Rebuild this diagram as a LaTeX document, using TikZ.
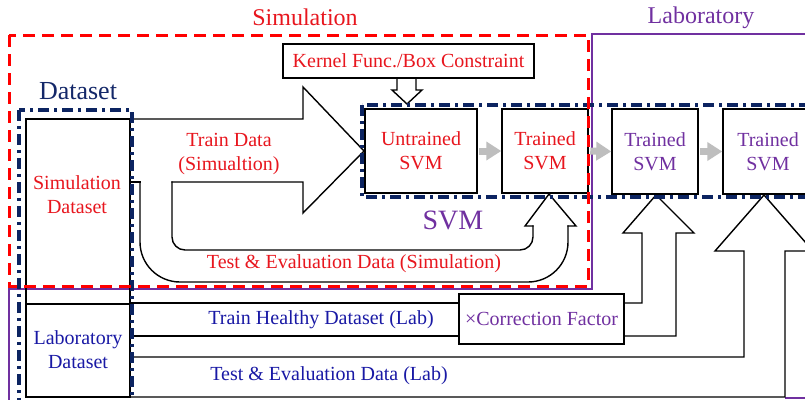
\documentclass[tikz,border=0pt]{standalone}
\usepackage{fontspec}
\setmainfont{Liberation Serif}
\usetikzlibrary{arrows.meta}
\definecolor{simred}{RGB}{232,22,30}
\definecolor{dashred}{RGB}{255,0,0}
\definecolor{labpurple}{RGB}{112,48,160}
\definecolor{navyline}{RGB}{12,36,97}
\definecolor{navytext}{RGB}{20,40,105}
\definecolor{labblue}{RGB}{25,25,165}
\definecolor{arrgray}{RGB}{190,190,190}
\begin{document}
\begin{tikzpicture}[x=1pt,y=-1pt,
  txt/.style={inner sep=0pt, align=center, font=\fontsize{20}{24}\selectfont},
  svmbox/.style={draw=black, line width=1.5pt, inner sep=0pt, align=center, font=\fontsize{20}{24}\selectfont},
  blk/.style={draw=black, line width=1.4pt, line cap=rect, line join=miter},
  dashdot/.style={draw=navyline, line width=3.5pt, dash pattern=on 11pt off 5pt on 3pt off 5pt},
  reddash/.style={draw=dashred, line width=3pt, dash pattern=on 12pt off 7pt},
  purpleframe/.style={draw=labpurple, line width=2pt},
  grayarrow/.style={draw=arrgray, line width=7pt, -{Triangle[length=15pt,width=18pt]}, shorten <=1.5pt}
]
\useasboundingbox (0,0) rectangle (805,399);
\fill[white] (0,0) rectangle (805,399);
\clip (0,0) rectangle (805,399);

% frames (back)
\draw[purpleframe] (9,402) -- (9,289) -- (592,289) -- (592,34) -- (820,34);
\draw[purpleframe] (785,398) -- (820,398);

% SVM boxes
\node[svmbox, text=simred, minimum width=112pt, minimum height=84pt] (untr) at (421,151) {Untrained\\SVM};
\node[svmbox, text=simred, minimum width=86pt, minimum height=84pt] (trs) at (545,151) {Trained\\SVM};
\node[svmbox, text=labpurple, minimum width=86pt, minimum height=85pt] (trl1) at (655,151.5) {Trained\\SVM};
\node[svmbox, text=labpurple, minimum width=90pt, minimum height=85pt] (trl2) at (768,151.5) {Trained\\SVM};

% kernel box
\node[svmbox, text=simred, minimum width=251pt, minimum height=34pt] (kern) at (408.5,61) {Kernel Func./Box Constraint};
% correction factor box
\node[svmbox, text=labpurple, minimum width=165pt, minimum height=50pt] (corr) at (541.5,319) {×Correction Factor};

% dataset boxes
\draw[blk] (26,119) rectangle (130,304);
\node[txt, text=simred] (simds) at (77,195) {Simulation\\Dataset};
\node[draw=black, line width=1.4pt, minimum width=104pt, minimum height=93pt, inner sep=0pt] (labbox) at (78,350.5) {};
\node[txt, text=labblue] (labds) at (78,350) {Laboratory\\Dataset};

% train data (simulation) block arrow
\draw[blk] (130,119) -- (303,119) -- (303,87) -- (364,151) -- (303,213) -- (303,182) -- (172,182);
% test & evaluation (simulation) U arrow
\draw[blk] (130,182) -- (140,182);
\draw[blk, rounded corners=40pt] (140,182) -- (140,282) -- (568,282) -- (568,226);
\draw[blk] (568,226) -- (576,226) -- (549,194) -- (525,226) -- (533,226);
\draw[blk, rounded corners=13pt] (533,226) -- (533,250) -- (172,250) -- (172,182);

% kernel down arrow
\draw[blk] (397,78) -- (397,90) -- (392,90) -- (407,104) -- (422,90) -- (416,90) -- (416,78);

% lab train healthy lines and correction arrow
\draw[blk] (131,303) -- (459,303);
\draw[blk] (131,336) -- (459,336);
\draw[blk] (624,303) -- (642,303) -- (642,233) -- (623,233) -- (656,195) -- (694,233) -- (676,233) -- (676,336) -- (624,336);

% lab test arrow
\draw[blk] (131,357) -- (744,357) -- (744,251) -- (715,251) -- (764,195) -- (813,251) -- (785,251) -- (785,397) -- (130,397);

% gray arrows
\draw[grayarrow] (untr.east) -- (trs.west);
\draw[grayarrow] (trs.east) -- (trl1.west);
\draw[grayarrow] (trl1.east) -- (trl2.west);

% labels
\node[txt, text=simred] (trainlbl) at (229,154) {Train Data\\(Simualtion)};
\node[txt, text=simred] (testlbl) at (354,264) {Test \& Evaluation Data (Simulation)};
\node[txt, text=labblue] (healthylbl) at (321,320) {Train Healthy Dataset (Lab)};
\node[txt, text=labblue] (testlablbl) at (329,376) {Test \& Evaluation Data (Lab)};

% dash-dot frames
\draw[dashdot] (19,110) rectangle (132,420);
\draw[dashdot] (362,105) rectangle (830,197);

% red dashed simulation frame
\draw[reddash] (9,35) rectangle (588,286);

% titles
\node[inner sep=0pt, text=simred, font=\fontsize{24}{28}\selectfont] (simtitle) at (305,17) {Simulation};
\node[inner sep=0pt, text=labpurple, font=\fontsize{24}{28}\selectfont] (labtitle) at (701,18) {Laboratory};
\node[inner sep=0pt, text=navytext, font=\fontsize{26}{30}\selectfont] (dstitle) at (78,91) {Dataset};
\node[inner sep=0pt, text=labpurple, font=\fontsize{28}{32}\selectfont] (svmtitle) at (453,220) {SVM};
\end{tikzpicture}
\end{document}
